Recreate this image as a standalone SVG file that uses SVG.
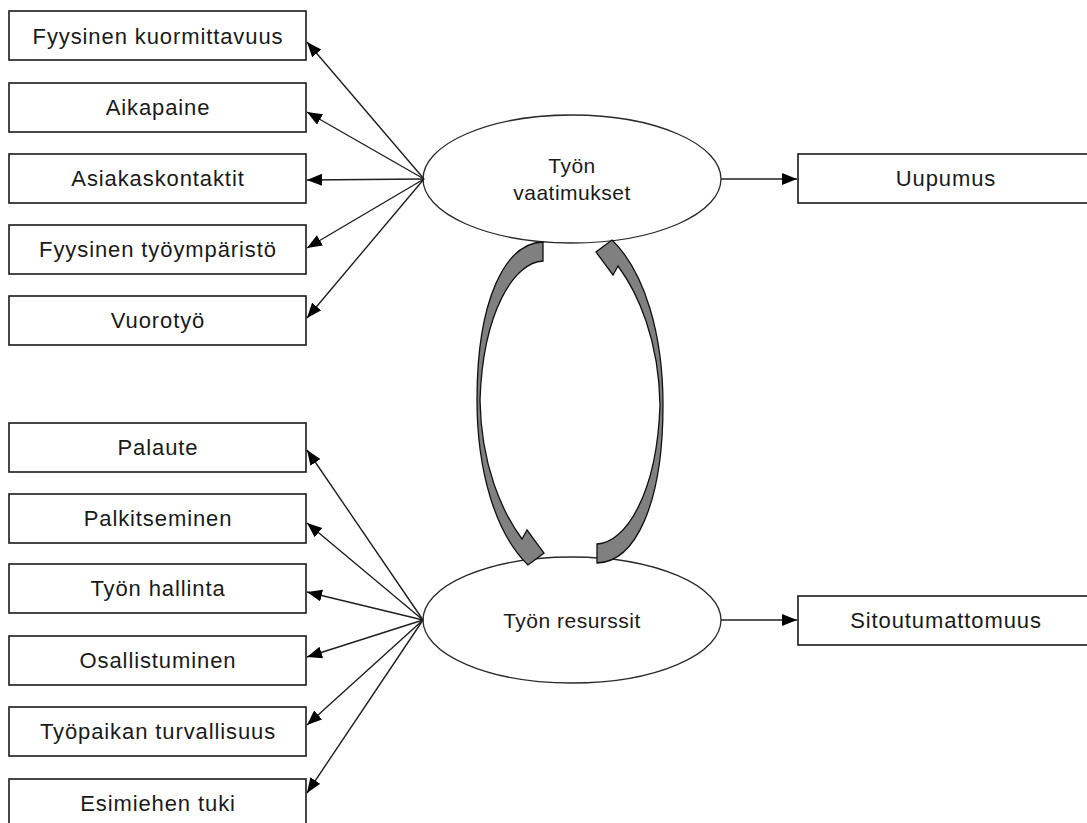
<svg xmlns="http://www.w3.org/2000/svg" width="1087" height="823" viewBox="0 0 1087 823">
  <style>
    .box { fill: #ffffff; stroke: #1a1a1a; stroke-width: 1.6; }
    .oval { fill: #ffffff; stroke: #2a2a2a; stroke-width: 1.3; }
    .lbl { font-family: "Liberation Sans", Arial, sans-serif; font-size: 22px; letter-spacing: 0.9px; fill: #1a1a1a; text-anchor: middle; }
    .olbl { font-family: "Liberation Sans", Arial, sans-serif; font-size: 21px; letter-spacing: 0.5px; fill: #1a1a1a; text-anchor: middle; }
    .link { fill: none; stroke: #1f1f1f; stroke-width: 1.4; marker-end: url(#head); }
    .loop { fill: #808080; stroke: #111111; stroke-width: 1.3; stroke-linejoin: miter; }
  </style>
  <defs>
    <marker id="head" markerUnits="userSpaceOnUse" markerWidth="16" markerHeight="13" refX="15" refY="6" orient="auto">
      <path d="M0,0 L15,6 L0,12 Z" fill="#000000"/>
    </marker>
    <!-- curved block arrow: tail at top right, head at bottom pointing down-right -->
    <path id="bend" d="M543,242 L543,261 C515,262 483,310 480,400 C481,465 502,512 522,539 L527,530 L544,553 L528,565 C495,533 477,470 477,400 C477,300 505,243 543,242 Z"/>
  </defs>

  <rect width="1087" height="823" fill="#ffffff"/>

  <!-- latent factors -->
  <g id="vaatimukset">
    <ellipse class="oval" cx="572" cy="179" rx="149" ry="64"/>
    <text class="olbl" x="572" y="173">Työn</text>
    <text class="olbl" x="572" y="200">vaatimukset</text>
  </g>
  <g id="resurssit">
    <ellipse class="oval" cx="572" cy="620" rx="149" ry="63"/>
    <text class="olbl" x="572" y="628">Työn resurssit</text>
  </g>

  <!-- demand indicators -->
  <g id="kuormittavuus"><rect class="box" x="9" y="11" width="297" height="49"/><text class="lbl" x="158" y="44">Fyysinen kuormittavuus</text></g>
  <g id="aikapaine"><rect class="box" x="9" y="83" width="297" height="49"/><text class="lbl" x="158" y="115">Aikapaine</text></g>
  <g id="asiakaskontaktit"><rect class="box" x="9" y="154" width="297" height="49"/><text class="lbl" x="158" y="186">Asiakaskontaktit</text></g>
  <g id="tyoymparisto"><rect class="box" x="9" y="225" width="297" height="49"/><text class="lbl" x="158" y="257">Fyysinen työympäristö</text></g>
  <g id="vuorotyo"><rect class="box" x="9" y="296" width="297" height="49"/><text class="lbl" x="158" y="328">Vuorotyö</text></g>

  <!-- resource indicators -->
  <g id="palaute"><rect class="box" x="9" y="423" width="297" height="49"/><text class="lbl" x="158" y="455">Palaute</text></g>
  <g id="palkitseminen"><rect class="box" x="9" y="494" width="297" height="49"/><text class="lbl" x="158" y="526">Palkitseminen</text></g>
  <g id="hallinta"><rect class="box" x="9" y="564" width="297" height="49"/><text class="lbl" x="158" y="596">Työn hallinta</text></g>
  <g id="osallistuminen"><rect class="box" x="9" y="636" width="297" height="49"/><text class="lbl" x="158" y="668">Osallistuminen</text></g>
  <g id="turvallisuus"><rect class="box" x="9" y="707" width="297" height="49"/><text class="lbl" x="158" y="739">Työpaikan turvallisuus</text></g>
  <g id="tuki"><rect class="box" x="9" y="779" width="297" height="49"/><text class="lbl" x="158" y="811">Esimiehen tuki</text></g>

  <!-- outcomes -->
  <g id="uupumus"><rect class="box" x="798" y="154" width="300" height="49"/><text class="lbl" x="946" y="186">Uupumus</text></g>
  <g id="sitoutumattomuus"><rect class="box" x="798" y="596" width="300" height="49"/><text class="lbl" x="946" y="628">Sitoutumattomuus</text></g>

  <!-- connectors -->
  <g id="connectors">
    <line class="link" x1="424" y1="179" x2="307" y2="42"/>
    <line class="link" x1="424" y1="179" x2="307" y2="112"/>
    <line class="link" x1="424" y1="179" x2="307" y2="180"/>
    <line class="link" x1="424" y1="179" x2="307" y2="248"/>
    <line class="link" x1="424" y1="179" x2="307" y2="318"/>

    <line class="link" x1="423" y1="620" x2="307" y2="450"/>
    <line class="link" x1="423" y1="620" x2="307" y2="523"/>
    <line class="link" x1="423" y1="620" x2="307" y2="592"/>
    <line class="link" x1="423" y1="620" x2="307" y2="657"/>
    <line class="link" x1="423" y1="620" x2="307" y2="725"/>
    <line class="link" x1="423" y1="620" x2="307" y2="793"/>

    <line class="link" x1="721" y1="179" x2="797" y2="179"/>
    <line class="link" x1="721" y1="620" x2="797" y2="620"/>

    <use href="#bend" class="loop"/>
    <use href="#bend" class="loop" transform="rotate(180 570 402.5)"/>
  </g>
</svg>
